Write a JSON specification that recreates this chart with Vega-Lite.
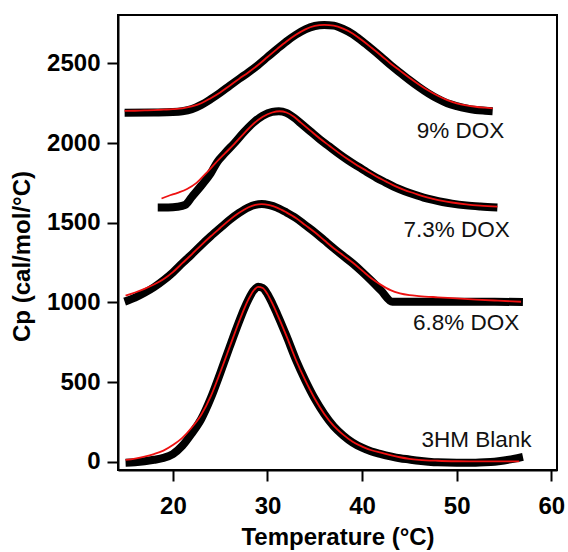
{
  "$schema": "https://vega.github.io/schema/vega-lite/v6.json",
  "autosize": {"type": "none"},
  "padding": {"left": 118, "top": 15, "right": 11, "bottom": 82},
  "width": 439,
  "height": 455,
  "background": "white",
  "config": {
    "view": {"stroke": "black", "strokeWidth": 2},
    "axis": {
      "grid": false,
      "domainColor": "black",
      "domainWidth": 2,
      "tickColor": "black",
      "tickWidth": 2,
      "tickSize": 11,
      "labelFont": "Liberation Sans",
      "labelFontWeight": "bold",
      "labelFontSize": 24,
      "labelColor": "black",
      "titleFont": "Liberation Sans",
      "titleFontWeight": "bold",
      "titleFontSize": 24,
      "titleColor": "black"
    }
  },
  "datasets": {
    "dsc": [
      {"s": "blank", "T": 15.0, "Cp": -6}, {"s": "blank", "T": 16, "Cp": -3}, {"s": "blank", "T": 17, "Cp": 3}, {"s": "blank", "T": 18, "Cp": 12}, {"s": "blank", "T": 19, "Cp": 24}, {"s": "blank", "T": 20, "Cp": 48}, {"s": "blank", "T": 21, "Cp": 100}, {"s": "blank", "T": 22, "Cp": 178}, {"s": "blank", "T": 23, "Cp": 268}, {"s": "blank", "T": 24, "Cp": 398}, {"s": "blank", "T": 25, "Cp": 555}, {"s": "blank", "T": 26, "Cp": 720}, {"s": "blank", "T": 27, "Cp": 880}, {"s": "blank", "T": 27.5, "Cp": 955}, {"s": "blank", "T": 28, "Cp": 1020}, {"s": "blank", "T": 28.5, "Cp": 1072}, {"s": "blank", "T": 29, "Cp": 1098}, {"s": "blank", "T": 29.5, "Cp": 1090}, {"s": "blank", "T": 30, "Cp": 1052}, {"s": "blank", "T": 30.5, "Cp": 995}, {"s": "blank", "T": 31, "Cp": 930}, {"s": "blank", "T": 32, "Cp": 790}, {"s": "blank", "T": 33, "Cp": 640}, {"s": "blank", "T": 34, "Cp": 510}, {"s": "blank", "T": 35, "Cp": 395}, {"s": "blank", "T": 36, "Cp": 300}, {"s": "blank", "T": 37, "Cp": 222}, {"s": "blank", "T": 38, "Cp": 165}, {"s": "blank", "T": 39, "Cp": 120}, {"s": "blank", "T": 40, "Cp": 88}, {"s": "blank", "T": 41, "Cp": 64}, {"s": "blank", "T": 42, "Cp": 48}, {"s": "blank", "T": 43, "Cp": 34}, {"s": "blank", "T": 44, "Cp": 22}, {"s": "blank", "T": 45, "Cp": 14}, {"s": "blank", "T": 46, "Cp": 6}, {"s": "blank", "T": 47, "Cp": 0}, {"s": "blank", "T": 48, "Cp": -4}, {"s": "blank", "T": 50, "Cp": -6}, {"s": "blank", "T": 52, "Cp": -6}, {"s": "blank", "T": 53, "Cp": -4}, {"s": "blank", "T": 54, "Cp": 0}, {"s": "blank", "T": 55, "Cp": 8}, {"s": "blank", "T": 56, "Cp": 18}, {"s": "blank", "T": 57, "Cp": 30},
      {"s": "d68", "T": 14.9, "Cp": 1005}, {"s": "d68", "T": 16, "Cp": 1030}, {"s": "d68", "T": 17, "Cp": 1060}, {"s": "d68", "T": 18, "Cp": 1095}, {"s": "d68", "T": 19, "Cp": 1138}, {"s": "d68", "T": 20, "Cp": 1188}, {"s": "d68", "T": 21, "Cp": 1246}, {"s": "d68", "T": 22, "Cp": 1302}, {"s": "d68", "T": 23, "Cp": 1360}, {"s": "d68", "T": 24, "Cp": 1415}, {"s": "d68", "T": 25, "Cp": 1467}, {"s": "d68", "T": 26, "Cp": 1518}, {"s": "d68", "T": 27, "Cp": 1562}, {"s": "d68", "T": 28, "Cp": 1597}, {"s": "d68", "T": 28.7, "Cp": 1612}, {"s": "d68", "T": 29.4, "Cp": 1617}, {"s": "d68", "T": 30.2, "Cp": 1610}, {"s": "d68", "T": 31, "Cp": 1595}, {"s": "d68", "T": 32, "Cp": 1565}, {"s": "d68", "T": 33, "Cp": 1530}, {"s": "d68", "T": 34, "Cp": 1485}, {"s": "d68", "T": 35, "Cp": 1440}, {"s": "d68", "T": 36, "Cp": 1390}, {"s": "d68", "T": 37, "Cp": 1340}, {"s": "d68", "T": 38, "Cp": 1292}, {"s": "d68", "T": 39, "Cp": 1245}, {"s": "d68", "T": 40, "Cp": 1192}, {"s": "d68", "T": 41, "Cp": 1135}, {"s": "d68", "T": 42, "Cp": 1075}, {"s": "d68", "T": 43.2, "Cp": 1004}, {"s": "d68", "T": 46, "Cp": 1004}, {"s": "d68", "T": 50, "Cp": 1004}, {"s": "d68", "T": 54, "Cp": 1004}, {"s": "d68", "T": 57, "Cp": 1002},
      {"s": "d73", "T": 18.4, "Cp": 1596}, {"s": "d73", "T": 19.5, "Cp": 1596}, {"s": "d73", "T": 20.5, "Cp": 1600}, {"s": "d73", "T": 21.3, "Cp": 1612}, {"s": "d73", "T": 22, "Cp": 1662}, {"s": "d73", "T": 23, "Cp": 1733}, {"s": "d73", "T": 24, "Cp": 1810}, {"s": "d73", "T": 24.7, "Cp": 1882}, {"s": "d73", "T": 25.5, "Cp": 1937}, {"s": "d73", "T": 26.5, "Cp": 2000}, {"s": "d73", "T": 27.5, "Cp": 2068}, {"s": "d73", "T": 28.5, "Cp": 2128}, {"s": "d73", "T": 29.5, "Cp": 2172}, {"s": "d73", "T": 30.5, "Cp": 2196}, {"s": "d73", "T": 31.2, "Cp": 2200}, {"s": "d73", "T": 32, "Cp": 2190}, {"s": "d73", "T": 32.8, "Cp": 2160}, {"s": "d73", "T": 33.5, "Cp": 2125}, {"s": "d73", "T": 34.5, "Cp": 2075}, {"s": "d73", "T": 35.5, "Cp": 2025}, {"s": "d73", "T": 36.5, "Cp": 1980}, {"s": "d73", "T": 37.5, "Cp": 1935}, {"s": "d73", "T": 38.5, "Cp": 1893}, {"s": "d73", "T": 39.5, "Cp": 1855}, {"s": "d73", "T": 40.5, "Cp": 1818}, {"s": "d73", "T": 41.5, "Cp": 1783}, {"s": "d73", "T": 42.5, "Cp": 1752}, {"s": "d73", "T": 43.5, "Cp": 1722}, {"s": "d73", "T": 44.5, "Cp": 1698}, {"s": "d73", "T": 45.5, "Cp": 1677}, {"s": "d73", "T": 46.5, "Cp": 1658}, {"s": "d73", "T": 47.5, "Cp": 1643}, {"s": "d73", "T": 48.5, "Cp": 1630}, {"s": "d73", "T": 49.5, "Cp": 1620}, {"s": "d73", "T": 51, "Cp": 1609}, {"s": "d73", "T": 52.5, "Cp": 1602}, {"s": "d73", "T": 54.3, "Cp": 1596},
      {"s": "d9", "T": 14.9, "Cp": 2190}, {"s": "d9", "T": 18, "Cp": 2192}, {"s": "d9", "T": 20, "Cp": 2195}, {"s": "d9", "T": 21, "Cp": 2200}, {"s": "d9", "T": 22, "Cp": 2213}, {"s": "d9", "T": 23, "Cp": 2240}, {"s": "d9", "T": 24, "Cp": 2276}, {"s": "d9", "T": 25, "Cp": 2316}, {"s": "d9", "T": 26, "Cp": 2360}, {"s": "d9", "T": 27, "Cp": 2403}, {"s": "d9", "T": 28, "Cp": 2445}, {"s": "d9", "T": 29, "Cp": 2490}, {"s": "d9", "T": 30, "Cp": 2540}, {"s": "d9", "T": 31, "Cp": 2590}, {"s": "d9", "T": 32, "Cp": 2638}, {"s": "d9", "T": 33, "Cp": 2680}, {"s": "d9", "T": 34, "Cp": 2714}, {"s": "d9", "T": 35, "Cp": 2735}, {"s": "d9", "T": 36, "Cp": 2742}, {"s": "d9", "T": 37, "Cp": 2737}, {"s": "d9", "T": 38, "Cp": 2716}, {"s": "d9", "T": 39, "Cp": 2684}, {"s": "d9", "T": 40, "Cp": 2640}, {"s": "d9", "T": 41, "Cp": 2592}, {"s": "d9", "T": 42, "Cp": 2542}, {"s": "d9", "T": 43, "Cp": 2490}, {"s": "d9", "T": 44, "Cp": 2443}, {"s": "d9", "T": 45, "Cp": 2396}, {"s": "d9", "T": 46, "Cp": 2352}, {"s": "d9", "T": 47, "Cp": 2312}, {"s": "d9", "T": 48, "Cp": 2278}, {"s": "d9", "T": 49, "Cp": 2250}, {"s": "d9", "T": 50, "Cp": 2232}, {"s": "d9", "T": 51, "Cp": 2218}, {"s": "d9", "T": 52, "Cp": 2208}, {"s": "d9", "T": 53, "Cp": 2203}, {"s": "d9", "T": 53.8, "Cp": 2200}
    ],
    "fit": [
      {"s": "blank", "T": 15.0, "Cp": 11}, {"s": "blank", "T": 16, "Cp": 20}, {"s": "blank", "T": 17, "Cp": 32}, {"s": "blank", "T": 18, "Cp": 48}, {"s": "blank", "T": 19, "Cp": 70}, {"s": "blank", "T": 20, "Cp": 105}, {"s": "blank", "T": 21, "Cp": 150}, {"s": "blank", "T": 22, "Cp": 215}, {"s": "blank", "T": 23, "Cp": 295}, {"s": "blank", "T": 24, "Cp": 410}, {"s": "blank", "T": 25, "Cp": 560}, {"s": "blank", "T": 26, "Cp": 720}, {"s": "blank", "T": 27, "Cp": 880}, {"s": "blank", "T": 27.5, "Cp": 955}, {"s": "blank", "T": 28, "Cp": 1020}, {"s": "blank", "T": 28.5, "Cp": 1072}, {"s": "blank", "T": 29, "Cp": 1098}, {"s": "blank", "T": 29.5, "Cp": 1090}, {"s": "blank", "T": 30, "Cp": 1052}, {"s": "blank", "T": 30.5, "Cp": 995}, {"s": "blank", "T": 31, "Cp": 930}, {"s": "blank", "T": 32, "Cp": 790}, {"s": "blank", "T": 33, "Cp": 640}, {"s": "blank", "T": 34, "Cp": 510}, {"s": "blank", "T": 35, "Cp": 395}, {"s": "blank", "T": 36, "Cp": 300}, {"s": "blank", "T": 37, "Cp": 225}, {"s": "blank", "T": 38, "Cp": 170}, {"s": "blank", "T": 39, "Cp": 125}, {"s": "blank", "T": 40, "Cp": 95}, {"s": "blank", "T": 41, "Cp": 72}, {"s": "blank", "T": 42, "Cp": 57}, {"s": "blank", "T": 43, "Cp": 42}, {"s": "blank", "T": 44, "Cp": 28}, {"s": "blank", "T": 45, "Cp": 18}, {"s": "blank", "T": 46, "Cp": 12}, {"s": "blank", "T": 48, "Cp": 6}, {"s": "blank", "T": 50, "Cp": 3}, {"s": "blank", "T": 52, "Cp": 2}, {"s": "blank", "T": 54, "Cp": 2}, {"s": "blank", "T": 56.6, "Cp": 2},
      {"s": "d68", "T": 15, "Cp": 1042}, {"s": "d68", "T": 16, "Cp": 1062}, {"s": "d68", "T": 17, "Cp": 1085}, {"s": "d68", "T": 18, "Cp": 1112}, {"s": "d68", "T": 19, "Cp": 1145}, {"s": "d68", "T": 20, "Cp": 1190}, {"s": "d68", "T": 21, "Cp": 1246}, {"s": "d68", "T": 22, "Cp": 1302}, {"s": "d68", "T": 23, "Cp": 1360}, {"s": "d68", "T": 24, "Cp": 1415}, {"s": "d68", "T": 25, "Cp": 1467}, {"s": "d68", "T": 26, "Cp": 1518}, {"s": "d68", "T": 27, "Cp": 1562}, {"s": "d68", "T": 28, "Cp": 1597}, {"s": "d68", "T": 28.7, "Cp": 1612}, {"s": "d68", "T": 29.4, "Cp": 1617}, {"s": "d68", "T": 30.2, "Cp": 1610}, {"s": "d68", "T": 31, "Cp": 1595}, {"s": "d68", "T": 32, "Cp": 1565}, {"s": "d68", "T": 33, "Cp": 1530}, {"s": "d68", "T": 34, "Cp": 1485}, {"s": "d68", "T": 35, "Cp": 1440}, {"s": "d68", "T": 36, "Cp": 1390}, {"s": "d68", "T": 37, "Cp": 1340}, {"s": "d68", "T": 38, "Cp": 1295}, {"s": "d68", "T": 39, "Cp": 1250}, {"s": "d68", "T": 40, "Cp": 1200}, {"s": "d68", "T": 41, "Cp": 1150}, {"s": "d68", "T": 42, "Cp": 1110}, {"s": "d68", "T": 43, "Cp": 1077}, {"s": "d68", "T": 44, "Cp": 1057}, {"s": "d68", "T": 45, "Cp": 1046}, {"s": "d68", "T": 46, "Cp": 1040}, {"s": "d68", "T": 48, "Cp": 1032}, {"s": "d68", "T": 50, "Cp": 1025}, {"s": "d68", "T": 52, "Cp": 1018}, {"s": "d68", "T": 54, "Cp": 1012}, {"s": "d68", "T": 56.8, "Cp": 1004},
      {"s": "d73", "T": 18.8, "Cp": 1652}, {"s": "d73", "T": 19.5, "Cp": 1668}, {"s": "d73", "T": 20.5, "Cp": 1688}, {"s": "d73", "T": 21.5, "Cp": 1712}, {"s": "d73", "T": 22.5, "Cp": 1750}, {"s": "d73", "T": 23.5, "Cp": 1810}, {"s": "d73", "T": 24.5, "Cp": 1874}, {"s": "d73", "T": 25.5, "Cp": 1935}, {"s": "d73", "T": 26.5, "Cp": 1995}, {"s": "d73", "T": 27.5, "Cp": 2060}, {"s": "d73", "T": 28.5, "Cp": 2120}, {"s": "d73", "T": 29.5, "Cp": 2165}, {"s": "d73", "T": 30.5, "Cp": 2192}, {"s": "d73", "T": 31.3, "Cp": 2200}, {"s": "d73", "T": 32, "Cp": 2192}, {"s": "d73", "T": 32.8, "Cp": 2165}, {"s": "d73", "T": 33.5, "Cp": 2130}, {"s": "d73", "T": 34.5, "Cp": 2080}, {"s": "d73", "T": 35.5, "Cp": 2030}, {"s": "d73", "T": 36.5, "Cp": 1985}, {"s": "d73", "T": 37.5, "Cp": 1940}, {"s": "d73", "T": 38.5, "Cp": 1898}, {"s": "d73", "T": 39.5, "Cp": 1860}, {"s": "d73", "T": 40.5, "Cp": 1825}, {"s": "d73", "T": 41.5, "Cp": 1790}, {"s": "d73", "T": 42.5, "Cp": 1760}, {"s": "d73", "T": 43.5, "Cp": 1730}, {"s": "d73", "T": 44.5, "Cp": 1705}, {"s": "d73", "T": 45.5, "Cp": 1685}, {"s": "d73", "T": 46.5, "Cp": 1665}, {"s": "d73", "T": 47.5, "Cp": 1650}, {"s": "d73", "T": 48.5, "Cp": 1637}, {"s": "d73", "T": 49.5, "Cp": 1627}, {"s": "d73", "T": 51, "Cp": 1615}, {"s": "d73", "T": 52.5, "Cp": 1607}, {"s": "d73", "T": 54.3, "Cp": 1601},
      {"s": "d9", "T": 14.9, "Cp": 2202}, {"s": "d9", "T": 16, "Cp": 2203}, {"s": "d9", "T": 17, "Cp": 2205}, {"s": "d9", "T": 18, "Cp": 2207}, {"s": "d9", "T": 19, "Cp": 2210}, {"s": "d9", "T": 20, "Cp": 2213}, {"s": "d9", "T": 21, "Cp": 2218}, {"s": "d9", "T": 22, "Cp": 2230}, {"s": "d9", "T": 23, "Cp": 2250}, {"s": "d9", "T": 24, "Cp": 2282}, {"s": "d9", "T": 25, "Cp": 2318}, {"s": "d9", "T": 26, "Cp": 2360}, {"s": "d9", "T": 27, "Cp": 2403}, {"s": "d9", "T": 28, "Cp": 2445}, {"s": "d9", "T": 29, "Cp": 2490}, {"s": "d9", "T": 30, "Cp": 2540}, {"s": "d9", "T": 31, "Cp": 2590}, {"s": "d9", "T": 32, "Cp": 2638}, {"s": "d9", "T": 33, "Cp": 2680}, {"s": "d9", "T": 34, "Cp": 2714}, {"s": "d9", "T": 35, "Cp": 2735}, {"s": "d9", "T": 36, "Cp": 2742}, {"s": "d9", "T": 37, "Cp": 2737}, {"s": "d9", "T": 38, "Cp": 2718}, {"s": "d9", "T": 39, "Cp": 2688}, {"s": "d9", "T": 40, "Cp": 2645}, {"s": "d9", "T": 41, "Cp": 2598}, {"s": "d9", "T": 42, "Cp": 2550}, {"s": "d9", "T": 43, "Cp": 2500}, {"s": "d9", "T": 44, "Cp": 2455}, {"s": "d9", "T": 45, "Cp": 2410}, {"s": "d9", "T": 46, "Cp": 2368}, {"s": "d9", "T": 47, "Cp": 2330}, {"s": "d9", "T": 48, "Cp": 2297}, {"s": "d9", "T": 49, "Cp": 2270}, {"s": "d9", "T": 50, "Cp": 2250}, {"s": "d9", "T": 51, "Cp": 2237}, {"s": "d9", "T": 52, "Cp": 2228}, {"s": "d9", "T": 53, "Cp": 2222}, {"s": "d9", "T": 53.8, "Cp": 2218}
    ],
    "labels": [
      {"T": 50.4, "Cp": 2029, "text": "9% DOX"},
      {"T": 50.0, "Cp": 1408, "text": "7.3% DOX"},
      {"T": 51.0, "Cp": 826, "text": "6.8% DOX"},
      {"T": 52.1, "Cp": 94, "text": "3HM Blank"}
    ]
  },
  "layer": [
    {
      "data": {"name": "dsc"},
      "mark": {"type": "line", "color": "black", "strokeWidth": 8, "strokeJoin": "round", "interpolate": "monotone"},
      "encoding": {
        "x": {"field": "T", "type": "quantitative", "scale": {"domain": [14.2, 60.6], "nice": false, "zero": false},
              "axis": {"values": [20, 30, 40, 50, 60], "title": "Temperature (°C)", "labelPadding": 13, "titleY": 74, "titleBaseline": "alphabetic"}},
        "y": {"field": "Cp", "type": "quantitative", "scale": {"domain": [-52, 2804], "nice": false, "zero": false},
              "axis": {"values": [0, 500, 1000, 1500, 2000, 2500], "format": "d", "title": "Cp (cal/mol/°C)", "labelPadding": 7, "titleX": -89, "titleY": 241, "titleBaseline": "alphabetic", "titleAngle": -90}},
        "detail": {"field": "s"}
      }
    },
    {
      "data": {"name": "fit"},
      "mark": {"type": "line", "color": "#ee1111", "strokeWidth": 1.8, "interpolate": "monotone"},
      "encoding": {
        "x": {"field": "T", "type": "quantitative"},
        "y": {"field": "Cp", "type": "quantitative"},
        "detail": {"field": "s"}
      }
    },
    {
      "data": {"name": "labels"},
      "mark": {"type": "text", "font": "Liberation Sans", "fontSize": 22.5, "align": "center", "baseline": "alphabetic", "color": "#111111"},
      "encoding": {
        "x": {"field": "T", "type": "quantitative"},
        "y": {"field": "Cp", "type": "quantitative"},
        "text": {"field": "text"}
      }
    }
  ]
}
